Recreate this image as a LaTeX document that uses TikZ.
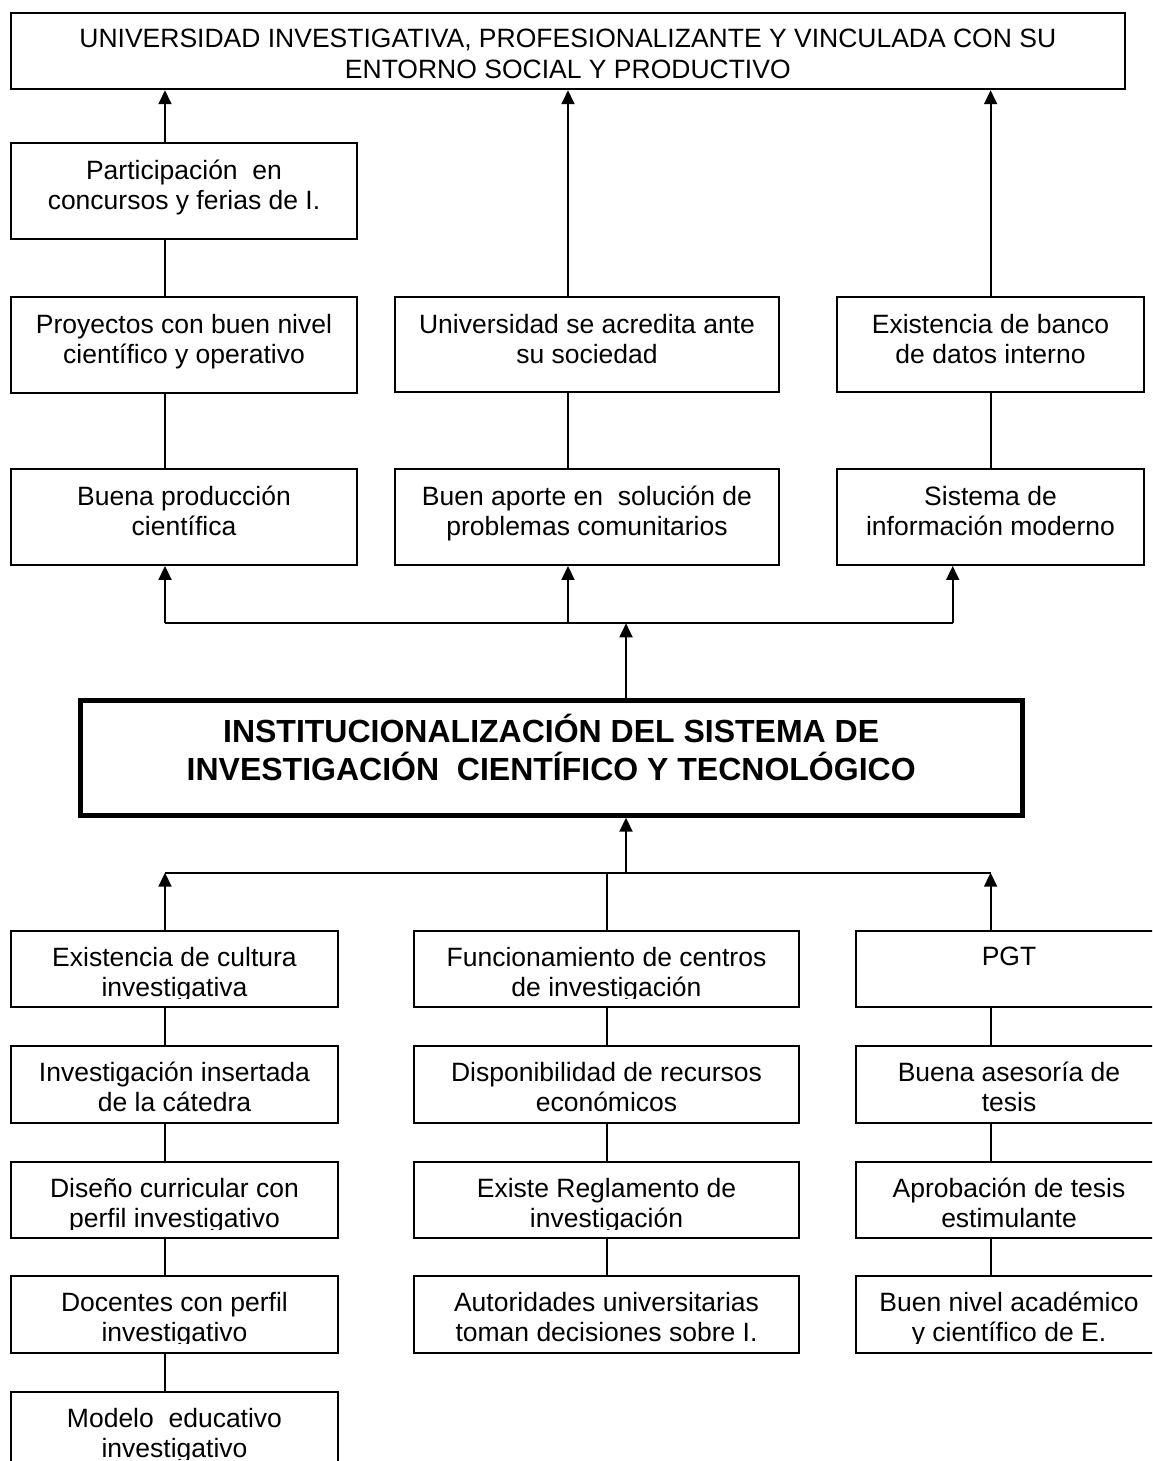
\documentclass[tikz,border=0pt]{standalone}
\usepackage{fontspec}
\setmainfont{Liberation Sans}
\usetikzlibrary{arrows.meta}
\tikzset{
  boxst/.style={draw, line width=1.9pt, inner sep=0pt},
  bigst/.style={draw, line width=5pt, inner sep=0pt},
  txt/.style={align=center, inner sep=0pt, font=\fontsize{26.5}{30}\selectfont},
  toptxt/.style={align=center, inner sep=0pt, font=\fontsize{26.5}{31}\selectfont},
  bigtxt/.style={align=center, inner sep=0pt, font=\fontsize{32}{37.3}\selectfont\bfseries},
  conn/.style={line width=1.9pt},
  arr/.style={line width=1.9pt, -{Triangle[length=14pt,width=13pt]}}
}
\newcommand\mkbox[5]{%
  \node[boxst, minimum width={(#4-#2)*1pt}, minimum height={(#5-#3)*1pt}] (#1) at ({(#2+#4)/2},{(#3+#5)/2}) {};}
% text node: anchor=base is the baseline of the LAST line
\newcommand\mktext[4]{%
  \node[txt, anchor=base] (#1) at ({#2},{#3}) {#4};}
% upper boxes (two lines): text not clipped
\newcommand\upbox[6]{%
  \mkbox{#1}{#2}{#3}{#4}{#5}
  \mktext{#1-t}{(#2+#4)/2}{#3+66}{#6}}
% lower boxes: text clipped near bottom; #7 = last baseline offset
\newcommand\lowboxgen[7]{%
  \mkbox{#1}{#2}{#3}{#4}{#5}
  \begin{scope}
    \clip (#2,#3) rectangle (#4,#3+67.5);
    \mktext{#1-t}{(#2+#4)/2}{#3+#7}{#6}
  \end{scope}}
\newcommand\lowbox[6]{\lowboxgen{#1}{#2}{#3}{#4}{#5}{#6}{65.6}}
\begin{document}
\begin{tikzpicture}[x=1pt,y=-1pt]
\useasboundingbox (0,0) rectangle (1152,1461);
\clip (0,0) rectangle (1152,1461);
\fill[white] (0,0) rectangle (1152,1461);

% column coordinates
\coordinate (xL) at (165,0);
\coordinate (xM) at (568,0);
\coordinate (xR) at (990.6,0);
\coordinate (xS) at (952.7,0);
\coordinate (xF) at (606.7,0);
\coordinate (busU) at (626,623.3);
\coordinate (busD) at (626,872.7);

% top box
\mkbox{top}{10.7}{12.7}{1125}{89.3}
\node[toptxt, anchor=base] (top-t) at (567.8,78.7) {UNIVERSIDAD INVESTIGATIVA, PROFESIONALIZANTE Y VINCULADA CON SU\\ENTORNO SOCIAL Y PRODUCTIVO};

% upper boxes
\upbox{part}{11}{143}{357}{239}{Participación~ en\\concursos y ferias de I.}
\upbox{proy}{11}{297}{357}{393}{Proyectos con buen nivel\\científico y operativo}
\upbox{univ}{395}{297}{779}{392}{Universidad se acredita ante\\su sociedad}
\upbox{banco}{837}{297}{1144}{392}{Existencia de banco\\de datos interno}
\upbox{buena}{11}{469}{357}{565}{Buena producción\\científica}
\upbox{aporte}{395}{469}{779}{565}{Buen aporte en~ solución de\\problemas comunitarios}
\upbox{sist}{837}{469}{1144}{565}{Sistema de\\información moderno}

% central box
\node[bigst, minimum width=941.9pt, minimum height=115pt] (big) at (551.15,757.7) {};
\node[bigtxt, anchor=base] (big-t) at (551.15,780) {INSTITUCIONALIZACIÓN DEL SISTEMA DE\\INVESTIGACIÓN~ CIENTÍFICO Y TECNOLÓGICO};

% lower boxes
\lowbox{l1}{11}{931}{338}{1007}{Existencia de cultura\\investigativa}
\lowbox{l2}{11}{1046}{338}{1123}{Investigación insertada\\de la cátedra}
\lowbox{l3}{11}{1162}{338}{1238}{Diseño curricular con\\perfil investigativo}
\lowbox{l4}{11}{1276}{338}{1353}{Docentes con perfil\\investigativo}
\lowbox{l5}{11}{1392}{338}{1470}{Modelo~ educativo\\investigativo}
\lowbox{m1}{414}{931}{799}{1007}{Funcionamiento de centros\\de investigación}
\lowbox{m2}{414}{1046}{799}{1123}{Disponibilidad de recursos\\económicos}
\lowbox{m3}{414}{1162}{799}{1238}{Existe Reglamento de\\investigación}
\lowbox{m4}{414}{1276}{799}{1353}{Autoridades universitarias\\toman decisiones sobre I.}
\lowboxgen{r1}{856}{931}{1162}{1007}{PGT}{34.5}
\lowbox{r2}{856}{1046}{1162}{1123}{Buena asesoría de\\tesis}
\lowbox{r3}{856}{1162}{1162}{1238}{Aprobación de tesis\\estimulante}
\lowbox{r4}{856}{1276}{1162}{1353}{Buen nivel académico\\y científico de E.}

% upper connectors
\draw[arr] (part.north -| xL) -- (top.south -| xL);
\draw[arr] (univ.north -| xM) -- (top.south -| xM);
\draw[arr] (banco.north -| xR) -- (top.south -| xR);
\draw[conn] (part.south -| xL) -- (proy.north -| xL);
\draw[conn] (proy.south -| xL) -- (buena.north -| xL);
\draw[conn] (univ.south -| xM) -- (aporte.north -| xM);
\draw[conn] (banco.south -| xR) -- (sist.north -| xR);

% upper bus
\draw[conn] (xL |- busU) -- (xS |- busU);
\draw[arr] (xL |- busU) -- (buena.south -| xL);
\draw[arr] (xM |- busU) -- (aporte.south -| xM);
\draw[arr] (xS |- busU) -- (sist.south -| xS);
\draw[arr] (big.north -| busU) -- (busU);

% lower bus
\draw[arr] (busD) -- (big.south -| busD);
\draw[conn] (xL |- busD) -- (xR |- busD);
\draw[arr] (l1.north -| xL) -- (xL |- busD);
\draw[conn] (m1.north -| xF) -- (xF |- busD);
\draw[arr] (r1.north -| xR) -- (xR |- busD);

% lower chains
\draw[conn] (l1.south -| xL) -- (l2.north -| xL);
\draw[conn] (l2.south -| xL) -- (l3.north -| xL);
\draw[conn] (l3.south -| xL) -- (l4.north -| xL);
\draw[conn] (l4.south -| xL) -- (l5.north -| xL);
\draw[conn] (m1.south -| xF) -- (m2.north -| xF);
\draw[conn] (m2.south -| xF) -- (m3.north -| xF);
\draw[conn] (m3.south -| xF) -- (m4.north -| xF);
\draw[conn] (r1.south -| xR) -- (r2.north -| xR);
\draw[conn] (r2.south -| xR) -- (r3.north -| xR);
\draw[conn] (r3.south -| xR) -- (r4.north -| xR);
\end{tikzpicture}
\end{document}
